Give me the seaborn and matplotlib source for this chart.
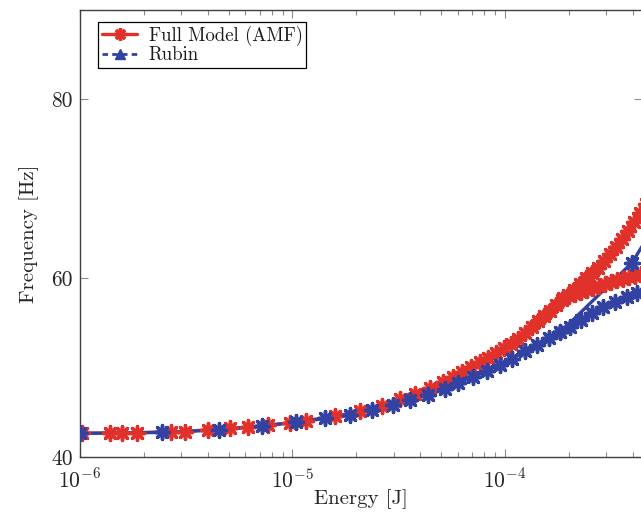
import numpy as np
import pandas as pd
import matplotlib
matplotlib.use("Agg")
import matplotlib.pyplot as plt
import seaborn as sns
from matplotlib.lines import Line2D
from matplotlib.ticker import LogLocator, FuncFormatter, NullFormatter, FixedLocator

# ---------------- data ----------------
# Full Model (AMF): main curve continuing into the upper branch
amf_main_energy = [1.018e-6, 1.384e-6, 1.571e-6, 1.848e-6, 2.681e-6, 3.12e-6, 4.004e-6,
                   5.08e-6, 6.174e-6, 7.667e-6, 9.73e-6, 1.157e-5, 1.585e-5, 2.078e-5,
                   2.637e-5, 3.206e-5, 3.771e-5, 4.437e-5, 5.107e-5, 5.69e-5, 6.28e-5,
                   6.92e-5, 7.63e-5, 8.32e-5, 9.07e-5, 9.89e-5, 1.067e-4, 1.151e-4,
                   1.242e-4, 1.340e-4, 1.430e-4, 1.526e-4, 1.628e-4, 1.738e-4, 1.854e-4,
                   1.980e-4, 2.112e-4, 2.254e-4, 2.405e-4, 2.567e-4, 2.739e-4, 2.924e-4,
                   3.120e-4, 3.330e-4, 3.553e-4, 3.792e-4, 4.047e-4, 4.319e-4, 4.608e-4]
amf_main_freq = [42.67, 42.67, 42.67, 42.71, 42.84, 42.84, 43.06,
                 43.20, 43.34, 43.57, 43.82, 44.07, 44.57, 45.13,
                 45.74, 46.46, 47.02, 47.69, 48.36, 48.93, 49.48,
                 50.03, 50.58, 51.12, 51.65, 52.19, 52.66, 53.17,
                 53.84, 54.58, 55.22, 55.81, 56.38, 56.95, 57.53,
                 58.13, 58.73, 59.33, 59.97, 60.59, 61.19, 61.93,
                 62.73, 63.53, 64.38, 65.31, 66.27, 67.24, 68.28]
# Full Model (AMF): lower branch
amf_branch_energy = [1.875e-4, 2.001e-4, 2.135e-4, 2.278e-4, 2.431e-4, 2.595e-4, 2.769e-4,
                     2.955e-4, 3.154e-4, 3.366e-4, 3.592e-4, 3.833e-4, 4.091e-4, 4.365e-4,
                     4.658e-4]
amf_branch_freq = [57.83, 58.05, 58.27, 58.50, 58.72, 58.94, 59.16,
                   59.39, 59.61, 59.78, 59.94, 60.11, 60.28, 60.45,
                   60.61]
# Rubin: main curve continuing into the lower branch
rubin_main_energy = [1.0054e-6, 2.424e-6, 4.510e-6, 7.187e-6, 1.039e-5, 1.422e-5, 1.865e-5,
                     2.359e-5, 2.981e-5, 3.572e-5, 4.356e-5, 5.219e-5, 6.030e-5, 7.092e-5,
                     8.203e-5, 9.473e-5, 1.075e-4, 1.242e-4, 1.415e-4, 1.611e-4, 1.815e-4,
                     2.023e-4, 2.278e-4, 2.567e-4, 2.892e-4, 3.294e-4, 3.751e-4, 4.181e-4,
                     4.709e-4]
rubin_main_freq = [42.64, 42.75, 43.03, 43.45, 43.90, 44.31, 44.68,
                   45.24, 45.79, 46.35, 46.96, 47.58, 48.25, 48.95,
                   49.62, 50.33, 51.00, 51.81, 52.53, 53.26, 53.93,
                   54.54, 55.32, 56.16, 56.82, 57.38, 57.88, 58.38,
                   58.83]
# Rubin: upper branch
rubin_branch_energy = [1.815e-4, 3.960e-4, 5.661e-4]
rubin_branch_freq = [53.93, 61.73, 67.74]

legend_labels = ["Full Model (AMF)", "Rubin"]
y_ticks = [40, 60, 80]

RED = "#E0312A"
BLUE = "#3142A2"

# ---------------- style ----------------
sns.set_style("ticks")
plt.rcParams.update({
    "font.family": "serif",
    "font.serif": ["cmr10", "DejaVu Serif"],
    "mathtext.fontset": "cm",
    "axes.unicode_minus": False,
})

fig = plt.figure(figsize=(6.41, 5.14), dpi=100)
ax = fig.add_axes([80 / 641, 1 - 457 / 514, 562 / 641, 447 / 514])

segments = [
    (amf_main_energy, amf_main_freq, RED, 2.0),
    (amf_branch_energy, amf_branch_freq, RED, 2.0),
    (rubin_main_energy, rubin_main_freq, BLUE, 2.1),
    (rubin_branch_energy, rubin_branch_freq, BLUE, 2.1),
]
star = (8, 2, 0)
for e, f, c, z in segments:
    df = pd.DataFrame({"energy": e, "freq": f})
    sns.lineplot(data=df, x="energy", y="freq", ax=ax, color=c, lw=2.4,
                 sort=False, estimator=None, zorder=z, legend=False)
for e, f, c, z in segments:
    df = pd.DataFrame({"energy": e, "freq": f})
    sns.scatterplot(data=df, x="energy", y="freq", ax=ax, color=c, marker=star,
                    s=100, linewidth=2.5, zorder=z + 1, legend=False, clip_on=True)

ax.set_xscale("log")
ax.set_xlim(1e-6, 10 ** (-6 + 562 / 212.5))
ax.set_ylim(40, 90)

ax.xaxis.set_major_locator(LogLocator(base=10, numticks=10))
ax.xaxis.set_minor_locator(LogLocator(base=10, subs=np.arange(2, 10), numticks=20))
ax.xaxis.set_major_formatter(FuncFormatter(lambda v, p: r"$10^{%d}$" % int(round(np.log10(v)))))
ax.xaxis.set_minor_formatter(NullFormatter())
ax.yaxis.set_major_locator(FixedLocator(y_ticks))

ax.tick_params(which="both", direction="in", top=True, right=True, color="0.55",
               labelsize=15.5, width=0.8, labelcolor="0.15")
ax.tick_params(which="major", length=5.5)
ax.tick_params(axis="y", which="major", pad=5)
ax.tick_params(axis="x", which="major", pad=8)
ax.tick_params(which="minor", length=3.5)
for sp in ax.spines.values():
    sp.set_color("0.25")
    sp.set_linewidth(1.0)

ax.set_xlabel("Energy [J]", fontsize=15, color="0.15", labelpad=-2)
ax.set_ylabel("Frequency [Hz]", fontsize=15, color="0.15", labelpad=9)

handles = [
    Line2D([], [], color=RED, lw=2.4, marker=star, ms=9, mew=2.4),
    Line2D([], [], color=BLUE, lw=2.0, ls=(0, (2.0, 1.5)), marker="^", ms=7),
]
leg = ax.legend(handles, legend_labels, loc="upper left", bbox_to_anchor=(0.032, 0.973),
                borderaxespad=0, fontsize=13.5, frameon=True, fancybox=False,
                edgecolor="black", framealpha=1, handlelength=1.9, handletextpad=0.6,
                labelspacing=0.02, borderpad=0.2)
leg.get_frame().set_linewidth(0.9)
for t in leg.get_texts():
    t.set_color("0.1")

fig.savefig("out.png", dpi=100)
